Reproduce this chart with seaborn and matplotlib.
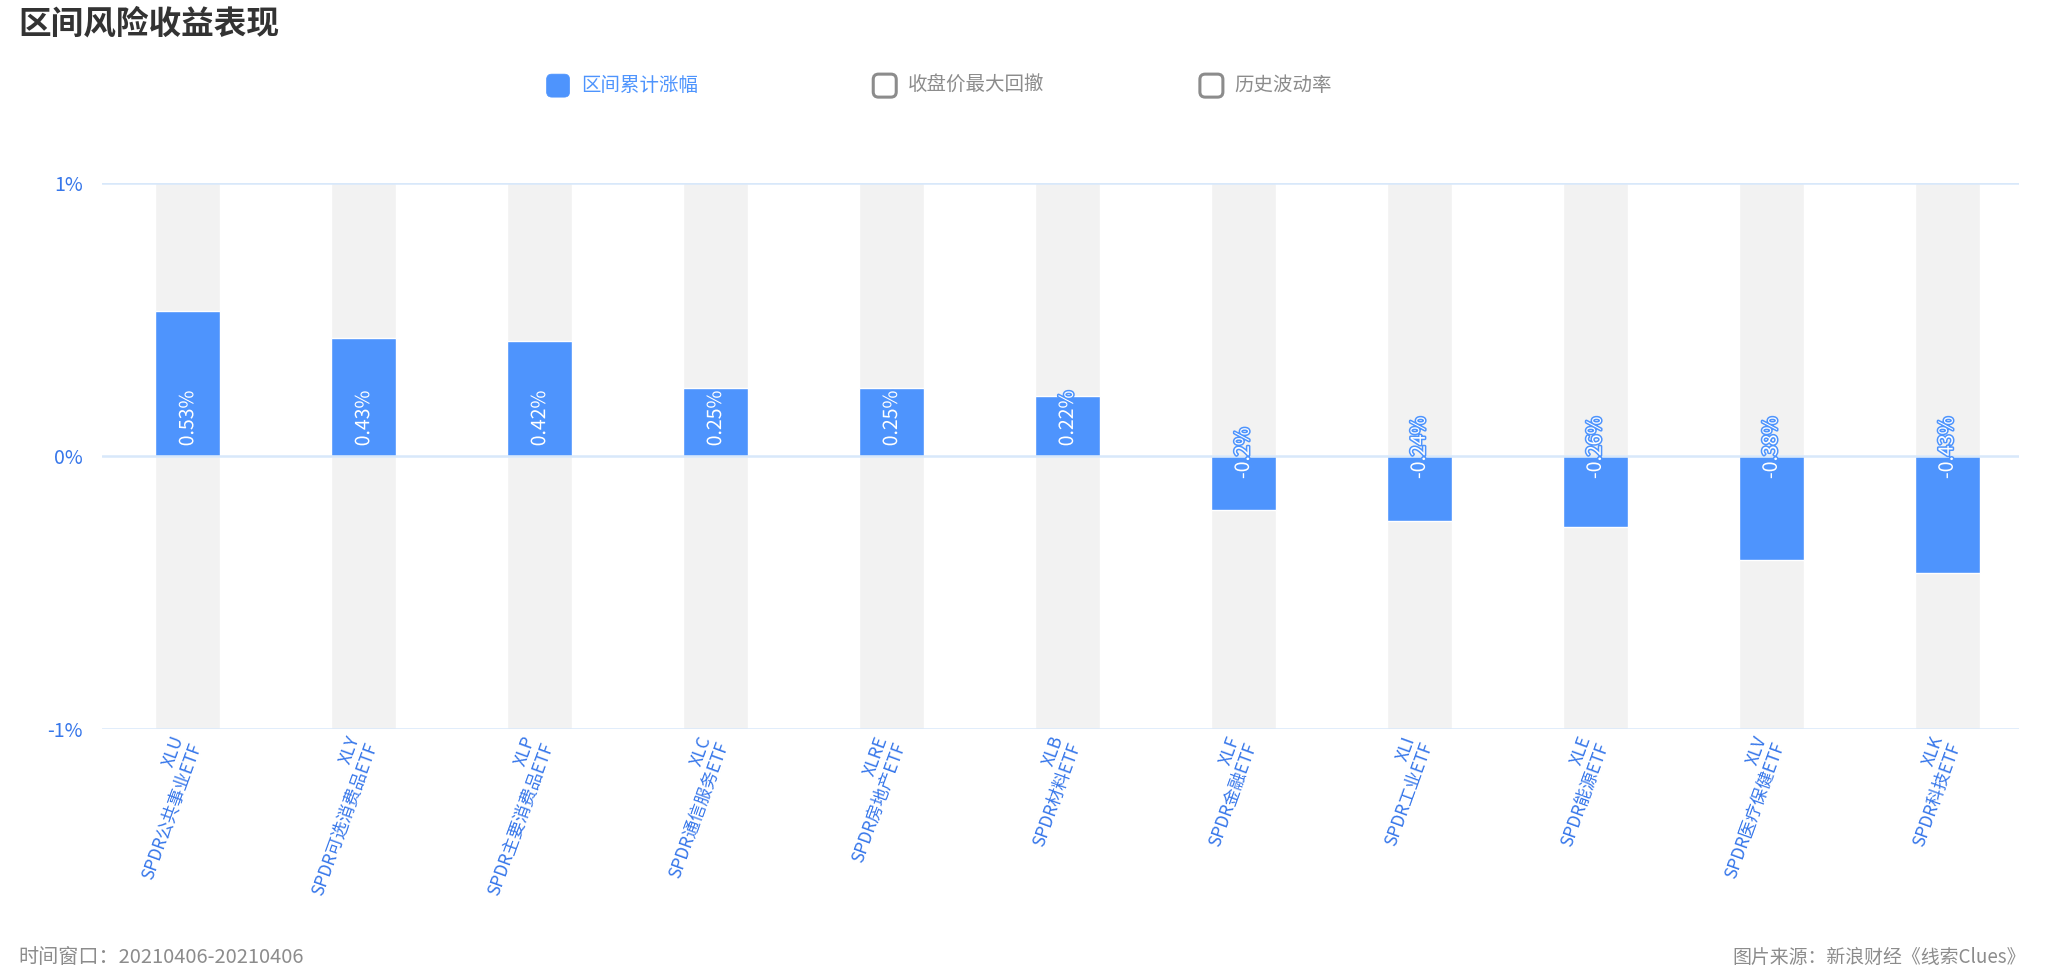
import numpy as np
import pandas as pd
import seaborn as sns
import matplotlib.pyplot as plt
from matplotlib.patches import FancyBboxPatch
import matplotlib.patheffects as pe

sns.set_style("white")
plt.rcParams['font.family'] = ['Noto Sans CJK SC', 'DejaVu Sans']
plt.rcParams['axes.unicode_minus'] = False

codes = ['XLU', 'XLY', 'XLP', 'XLC', 'XLRE', 'XLB', 'XLF', 'XLI', 'XLE', 'XLV', 'XLK']
names = ['SPDR公共事业ETF', 'SPDR可选消费品ETF', 'SPDR主要消费品ETF', 'SPDR通信服务ETF',
         'SPDR房地产ETF', 'SPDR材料ETF', 'SPDR金融ETF', 'SPDR工业ETF',
         'SPDR能源ETF', 'SPDR医疗保健ETF', 'SPDR科技ETF']
change = [0.53, 0.43, 0.42, 0.25, 0.25, 0.22, -0.2, -0.24, -0.26, -0.38, -0.43]
change_labels = ['0.53%', '0.43%', '0.42%', '0.25%', '0.25%', '0.22%',
                 '-0.2%', '-0.24%', '-0.26%', '-0.38%', '-0.43%']
yticks = [-1, 0, 1]
ytick_labels = ['-1%', '0%', '1%']
legend_items = ['区间累计涨幅', '收盘价最大回撤', '历史波动率']

BLUE = '#4e94fd'
TICK_BLUE = '#3777ea'
GRID = '#d8e8fa'
BAND = '#f2f2f2'
GRAY = '#8c8c8c'

df = pd.DataFrame({'code': codes, 'value': change})
df['top'] = 1
df['bottom'] = -1

fig = plt.figure(figsize=(20.48, 9.73), dpi=100)
ax = fig.add_axes([0.05, 0.251, 0.936, 0.561])

# grey bands behind each category, then the real bars
sns.barplot(data=df, x='code', y='top', color=BAND, width=0.37, saturation=1, ax=ax, zorder=1)
sns.barplot(data=df, x='code', y='bottom', color=BAND, width=0.37, saturation=1, ax=ax, zorder=1)
sns.barplot(data=df, x='code', y='value', color=BLUE, width=0.37, saturation=1, ax=ax, zorder=3)

for y in yticks:
    ax.axhline(y, color=GRID, lw=1.8, zorder=4)

for i, (v, lab) in enumerate(zip(change, change_labels)):
    y0 = 0.035 if v > 0 else -0.085
    ax.text(i, y0, lab, rotation=90, ha='left', va='center', rotation_mode='anchor',
            color='white', fontsize=14, zorder=5,
            path_effects=[pe.withStroke(linewidth=2.2, foreground=BLUE)])

ax.set_xlim(-0.485, len(codes) - 0.59)
ax.set_ylim(-1, 1)
ax.set_yticks(yticks)
ax.set_yticklabels(ytick_labels, color=TICK_BLUE, fontsize=14)
ax.set_xticks(range(len(codes)))
ax.set_xticklabels([c + '\n' + n for c, n in zip(codes, names)], rotation=70,
                   ha='right', va='center', rotation_mode='anchor', ma='right',
                   color=TICK_BLUE, fontsize=12.5, linespacing=1.05)
ax.tick_params(axis='y', length=0, pad=14)
ax.tick_params(axis='x', length=0, pad=8)
ax.set_xlabel('')
ax.set_ylabel('')
for s in ax.spines.values():
    s.set_visible(False)

# title and legend
fig.text(0.0088, 0.975, '区间风险收益表现', fontsize=23.5, fontweight='bold', color='#333333',
         ha='left', va='center')

leg_x = [0.2725, 0.432, 0.5915]
w, h = 23 / 2048, 23 / 973
for i, (lx, txt) in enumerate(zip(leg_x, legend_items)):
    fc, ec, tc = (BLUE, BLUE, BLUE) if i == 0 else ('white', GRAY, GRAY)
    box = FancyBboxPatch((lx - w / 2, 0.912 - h / 2), w, h,
                         boxstyle='round,pad=0,rounding_size=0.0026',
                         transform=fig.transFigure, fc=fc, ec=ec,
                         lw=0.5 if i == 0 else 2.2, mutation_aspect=2048 / 973)
    fig.patches.append(box)
    fig.text(lx + 0.0112, 0.912, txt, fontsize=14, color=tc, ha='left', va='center')

fig.text(0.0088, 0.016, '时间窗口：20210406-20210406', fontsize=14.5, color=GRAY,
         ha='left', va='center')
fig.text(0.989, 0.016, '图片来源：新浪财经《线索Clues》', fontsize=13.6, color=GRAY,
         ha='right', va='center')

fig.savefig('out.png', dpi=100, facecolor='white')
